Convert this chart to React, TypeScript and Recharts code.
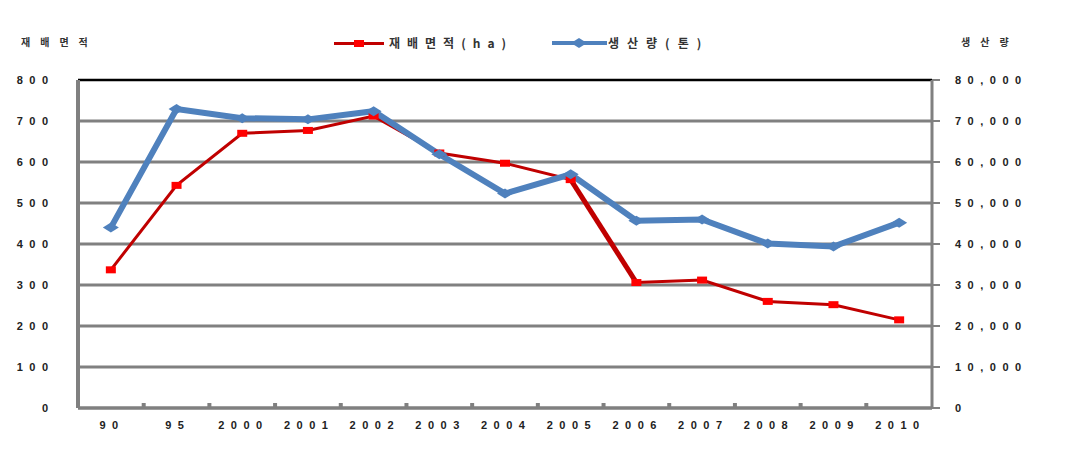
import { LineChart, Line, XAxis, YAxis, CartesianGrid, ReferenceLine } from 'recharts';

const categories = ['90', '95', '2000', '2001', '2002', '2003', '2004', '2005', '2006', '2007', '2008', '2009', '2010'];
const areaHa = [337, 543, 670, 677, 712, 622, 597, 557, 306, 312, 260, 252, 215];
// the 2005 -> 2006 segment is drawn heavier in the original
const areaHeavy = [null, null, null, null, null, null, null, 557, 306, null, null, null, null];
const productionTon = [44000, 72900, 70700, 70400, 72400, 61900, 52300, 57000, 45700, 46000, 40100, 39400, 45200];
const leftTicks = [0, 100, 200, 300, 400, 500, 600, 700, 800];
const rightTicks = [0, 10000, 20000, 30000, 40000, 50000, 60000, 70000, 80000];

const data = categories.map((cat, i) => ({
  cat,
  area: areaHa[i],
  areaHeavy: areaHeavy[i],
  prod: productionTon[i],
}));

const W = 1079;
const H = 465;
const PLOT_L = 78;
const PLOT_R = 932;
const BAND = (PLOT_R - PLOT_L) / categories.length;
const GRAY = '#808080';
const LS = 6.5;
const tickFont = { fontFamily: 'Liberation Sans, Arial, sans-serif', fontSize: 11, fontWeight: 700, fill: '#222' };
const krFont = "'Noto Sans CJK KR', sans-serif";

const LeftTick = (props: any) => {
  const { y, payload } = props;
  return (
    <text x={48 + LS} y={y} textAnchor="end" dominantBaseline="central" letterSpacing={LS} {...tickFont}>
      {payload.value}
    </text>
  );
};

const RightTick = (props: any) => {
  const { x, y, payload } = props;
  return (
    <text x={x} y={y} textAnchor="start" dominantBaseline="central" letterSpacing={LS} {...tickFont}>
      {payload.value.toLocaleString('en-US')}
    </text>
  );
};

const BottomTick = (props: any) => {
  const { x, y, payload, index } = props;
  const last = index === categories.length - 1;
  return (
    <g>
      {!last && <rect x={x + BAND / 2 - 2} y={y - 5} width={4} height={5} fill={GRAY} />}
      <text x={x + LS / 2 - 2} y={y + 17} textAnchor="middle" dominantBaseline="central" letterSpacing={LS} {...tickFont}>
        {payload.value}
      </text>
    </g>
  );
};

const SquareDot = (props: any) => {
  const { cx, cy, index } = props;
  if (cx == null || cy == null) return <g key={`s-${index}`} />;
  return <rect key={`s-${index}`} x={cx - 5} y={cy - 3.5} width={10} height={7} fill="#FF0000" />;
};

const DiamondDot = (props: any) => {
  const { cx, cy, index } = props;
  if (cx == null || cy == null) return <g key={`d-${index}`} />;
  return (
    <path
      key={`d-${index}`}
      d={`M${cx - 8},${cy} L${cx},${cy - 5} L${cx + 8},${cy} L${cx},${cy + 5} Z`}
      fill="#4F81BD"
    />
  );
};

export default function App() {
  return (
    <div style={{ position: 'absolute', left: 0, top: 0, width: W, height: H, background: '#fff' }}>
      <div style={{ position: 'absolute', left: 21, top: 34, fontFamily: krFont, fontSize: 10, fontWeight: 700, letterSpacing: 10, color: '#333' }}>
        재배면적
      </div>
      <div style={{ position: 'absolute', left: 961, top: 34, fontFamily: krFont, fontSize: 10, fontWeight: 700, letterSpacing: 10, color: '#333' }}>
        생산량
      </div>

      {/* legend */}
      <div style={{ position: 'absolute', left: 334, top: 42, width: 50, height: 3, background: '#C00000' }} />
      <div style={{ position: 'absolute', left: 354, top: 40, width: 10, height: 7, background: '#FF0000' }} />
      <div style={{ position: 'absolute', left: 389, top: 34, fontFamily: krFont, fontSize: 12, fontWeight: 700, letterSpacing: 7, color: '#333', lineHeight: '18px' }}>
        재배면적(ha)
      </div>
      <div style={{ position: 'absolute', left: 552, top: 41, width: 55, height: 4, background: '#4F81BD' }} />
      <svg style={{ position: 'absolute', left: 570, top: 37 }} width={18} height={12}>
        <path d="M1,6 L9,1 L17,6 L9,11 Z" fill="#4F81BD" />
      </svg>
      <div style={{ position: 'absolute', left: 608, top: 34, fontFamily: krFont, fontSize: 12, fontWeight: 700, letterSpacing: 8, color: '#333', lineHeight: '18px' }}>
        생산량(톤)
      </div>

      <LineChart width={W} height={H} data={data} margin={{ top: 80, right: 77, bottom: 27, left: 8 }}>
        <CartesianGrid yAxisId="left" vertical={false} stroke={GRAY} strokeWidth={3} />
        <XAxis
          dataKey="cat"
          height={30}
          padding={{ left: BAND / 2, right: BAND / 2 }}
          tickLine={false}
          tickSize={0}
          tickMargin={0}
          axisLine={{ stroke: GRAY, strokeWidth: 3 }}
          tick={<BottomTick />}
          interval={0}
        />
        <YAxis
          yAxisId="left"
          width={70}
          domain={[0, 800]}
          ticks={leftTicks}
          tickLine={false}
          tickSize={0}
          axisLine={{ stroke: GRAY, strokeWidth: 4 }}
          tick={<LeftTick />}
          interval={0}
        />
        <YAxis
          yAxisId="right"
          orientation="right"
          width={70}
          domain={[0, 80000]}
          ticks={rightTicks}
          tickSize={8}
          tickMargin={15}
          tickLine={{ stroke: GRAY, strokeWidth: 2 }}
          axisLine={{ stroke: GRAY, strokeWidth: 3 }}
          tick={<RightTick />}
          interval={0}
        />
        <ReferenceLine yAxisId="left" y={800} stroke="#000" strokeWidth={2} />
        <Line
          yAxisId="left"
          dataKey="areaHeavy"
          stroke="#C00000"
          strokeWidth={5}
          dot={false}
          activeDot={false}
          isAnimationActive={false}
        />
        <Line
          yAxisId="left"
          dataKey="area"
          stroke="#C00000"
          strokeWidth={3}
          dot={<SquareDot />}
          activeDot={false}
          isAnimationActive={false}
        />
        <Line
          yAxisId="right"
          dataKey="prod"
          stroke="#4F81BD"
          strokeWidth={6}
          dot={<DiamondDot />}
          activeDot={false}
          isAnimationActive={false}
        />
      </LineChart>
    </div>
  );
}
